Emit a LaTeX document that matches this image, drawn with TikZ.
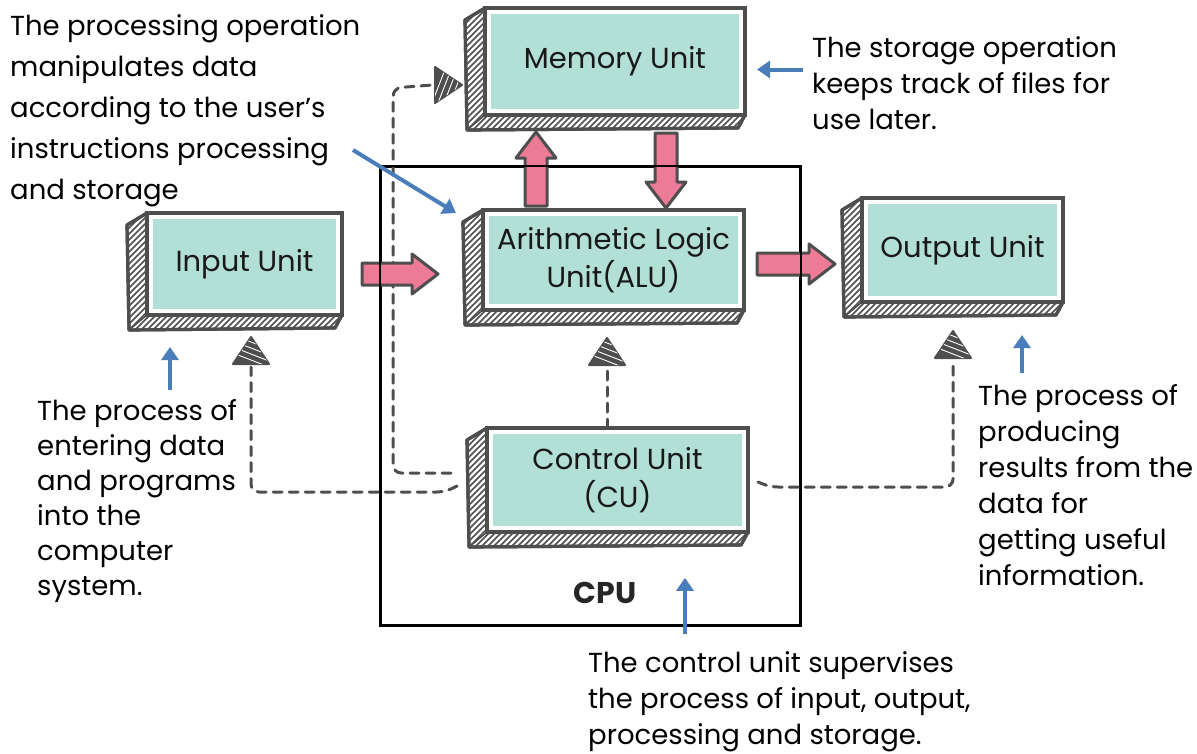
\documentclass[tikz,border=0pt]{standalone}
\usepackage{fontspec}
\setmainfont{Poppins}
\usetikzlibrary{calc,arrows.meta}
\definecolor{dgray}{RGB}{78,78,78}
\definecolor{tealc}{RGB}{178,223,214}
\definecolor{pinkc}{RGB}{237,122,150}
\definecolor{bluec}{RGB}{74,126,187}

% hatched side and bottom faces behind a front panel
\newcommand\boxsides[1]{%
  \path[sideface] (#1.north west) -- ($(#1.north west)+(-20,12)$) -- ($(#1.south west)+(-18,15)$)
     -- ($(#1.south east)+(-7,13)$) -- (#1.south east) -- (#1.south west) -- cycle;
  \begin{scope}
    \clip (#1.north west) -- ($(#1.north west)+(-20,12)$) -- ($(#1.south west)+(-18,15)$)
       -- ($(#1.south east)+(-7,13)$) -- (#1.south east) -- (#1.south west) -- cycle;
    \foreach \k in {-160,-154,...,280}
      \draw[hatchline] ($(#1.south west)+(\k,25)$) -- ++(150,-150);
  \end{scope}
  \draw[sideface, fill=none] (#1.north west) -- ($(#1.north west)+(-20,12)$) -- ($(#1.south west)+(-18,15)$)
     -- ($(#1.south east)+(-7,13)$) -- (#1.south east);
  \draw[dgray, line width=1.5pt] (#1.south west) -- ($(#1.south west)+(-18,15)$);
}

% scribbled triangular tip, pointing along the given angle
\newcommand\sketchtip[2]{%
  \begin{scope}[shift={(#1)}, rotate=#2]
    \filldraw[tipfill] (0,0) -- (-27,-18) -- (-27,18) -- cycle;
    \begin{scope}
      \clip (0,0) -- (-27,-18) -- (-27,18) -- cycle;
      \foreach \k in {-30,-24,...,20}
        \draw[white, line width=0.9pt] (\k,18) -- ++(14,-36);
    \end{scope}
  \end{scope}
}

% broad pink arrow from a tail point, rotated, of a given length
\newcommand\fatarrow[3]{%
  \begin{scope}[shift={(#1)}, rotate=#2]
    \draw[fatarr] (0,-11) -- (#3-26,-11) -- (#3-26,-20) -- (#3,0) -- (#3-26,20) -- (#3-26,11) -- (0,11) -- cycle;
  \end{scope}
}

\begin{document}
\begin{tikzpicture}[x=1pt, y=-1pt,
  front/.style={fill=white, draw=dgray, line width=3.5pt, outer sep=0pt, inner sep=0pt,
    align=center, text=black!90, font=\fontsize{29}{38}\selectfont,
    path picture={\fill[tealc] ($(path picture bounding box.north west)+(6,6)$)
      rectangle ($(path picture bounding box.south east)+(-6,-6)$);}},
  sideface/.style={fill=white, draw=dgray, line width=3.2pt, line join=round},
  hatchline/.style={dgray, line width=1.5pt},
  tipfill/.style={fill=dgray, draw=dgray, line width=2pt, line join=round},
  fatarr/.style={fill=pinkc, draw=dgray, line width=3pt, line join=round},
  dashlink/.style={dgray, line width=3pt, dash pattern=on 9pt off 7pt, rounded corners=8pt, line cap=round},
  bluearr/.style={bluec, line width=4pt, -{Triangle[length=13pt, width=17pt]}},
  note/.style={align=left, inner sep=0pt, anchor=base west, text=black},
]
\useasboundingbox (0,0) rectangle (1197,753);

% front panels of the units
\node[front, minimum width=260, minimum height=107] (mem) at (615,61.5) {Memory Unit};
\node[front, minimum width=261, minimum height=100] (alu) at (613.5,260) {Arithmetic Logic\\Unit(ALU)};
\node[front, minimum width=195, minimum height=102] (inp) at (244.5,264) {Input Unit};
\node[front, minimum width=201, minimum height=104] (out) at (962.5,250) {Output Unit};
\node[front, minimum width=261, minimum height=104] (cu) at (617.5,480) {Control Unit\\(CU)};

% CPU frame
\node[draw=black, line width=1.6pt, minimum width=419, minimum height=458, inner sep=0pt] (cpu) at (590.5,396) {};
\node[font=\fontsize{30}{34}\selectfont\bfseries, text=black!85] (cpulabel) at (605,593) {CPU};

% tips of the control links
\coordinate (tm) at ($(mem.west)+(-23,23.5)$);
\coordinate (ti) at ($(inp.south)+(6.5,22)$);
\coordinate (ta) at ($(alu.south)+(-6.5,28)$);
\coordinate (to) at ($(out.south)+(-9.5,29)$);
\coordinate (mc) at ($(cpu.west |- tm)+(13,3)$);

% dashed control links from the control unit
\draw[dashlink] ($(cu.west)+(-36,-7)$) -| (mc) -- ($(tm)+(-30,0)$);
\draw[dashlink] ($(cu.west)+(-30,6)$) -- ($(cu.west)+(-42,12)$) -| ($(ti)+(0,30)$);
\draw[dashlink] (cu.north -| ta) -- ($(ta)+(0,30)$);
\draw[dashlink] ($(cu.east)+(10,2)$) -- ($(cu.east)+(22,7)$) -| ($(to)+(0,30)$);

% side faces
\boxsides{mem}
\boxsides{alu}
\boxsides{inp}
\boxsides{out}
\boxsides{cu}

% redraw front panels on top of the side outlines
\node[front, minimum width=260, minimum height=107] at (mem) {Memory Unit};
\node[front, minimum width=261, minimum height=100] at (alu) {Arithmetic Logic\\Unit(ALU)};
\node[front, minimum width=195, minimum height=102] at (inp) {Input Unit};
\node[front, minimum width=201, minimum height=104] at (out) {Output Unit};
\node[front, minimum width=261, minimum height=104] at (cu) {Control Unit\\(CU)};

\sketchtip{tm}{0}
\sketchtip{ti}{90}
\sketchtip{ta}{90}
\sketchtip{to}{90}

% data flow arrows
\fatarrow{$(alu.north west)+(53,-4)$}{90}{74}
\fatarrow{$(mem.south west)+(181,18)$}{-90}{75}
\fatarrow{$(inp.east)+(20,10)$}{0}{76}
\fatarrow{$(alu.east)+(13,4)$}{0}{78}

% CPU frame line over the arrows
\draw[black, line width=1.6pt] (cpu.north west) rectangle (cpu.south east);

% annotations (anchored at the baseline of their last line)
\node[note, font=\fontsize{27.5}{41}\selectfont] (tproc) at (10,199)
  {The processing operation\\manipulates data\\according to the user’s\\instructions processing\\and storage};
\node[note, font=\fontsize{27.5}{36}\selectfont] (tstor) at (812,129)
  {The storage operation\\keeps track of files for\\use later.};
\node[note, font=\fontsize{27.5}{35}\selectfont] (tin) at (37,595)
  {The process of\\entering data\\and programs\\into the\\computer\\system.};
\node[note, font=\fontsize{27.5}{36}\selectfont] (tout) at (978,585)
  {The process of\\producing\\results from the\\data for\\getting useful\\information.};
\node[note, font=\fontsize{27.5}{36}\selectfont] (tcu) at (588,744)
  {The control unit supervises\\the process of input, output,\\processing and storage.};

% pointers from the annotations
\coordinate (b1) at (353,150);
\draw[bluearr] (b1) -- ($(alu.north west)+(-27,3)$);
\coordinate (b2) at ($(mem.east)+(12,8)$);
\draw[bluearr] ($(b2)+(46,0)$) -- (b2);
\coordinate (b3) at ($(inp.south)+(-74.5,32)$);
\draw[bluearr] ($(b3)+(0,43)$) -- (b3);
\coordinate (b4) at ($(out.south)+(59.5,33)$);
\draw[bluearr] ($(b4)+(0,38)$) -- (b4);
\coordinate (b5) at ($(cpu.south)+(94.5,-48)$);
\draw[bluearr] ($(b5)+(0,56)$) -- (b5);
\end{tikzpicture}
\end{document}
